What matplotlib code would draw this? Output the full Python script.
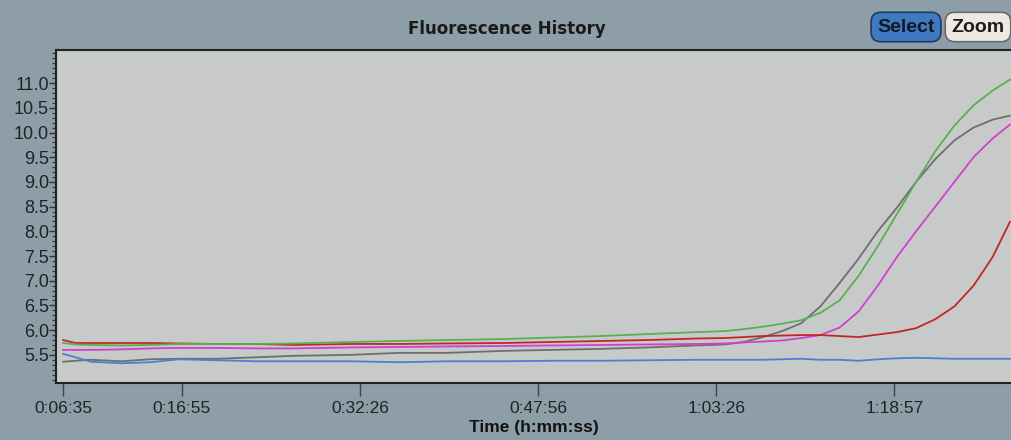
import matplotlib
matplotlib.use("Agg")
import matplotlib.pyplot as plt
from matplotlib.ticker import MultipleLocator

# time in seconds
t = [395, 460, 540, 700, 850, 1000, 1200, 1400, 1600, 1900, 2150, 2400, 2700, 2950,
     3200, 3450, 3700, 3850, 3950, 4050, 4150, 4250, 4350, 4450, 4550, 4650, 4750,
     4850, 4950, 5050, 5150, 5250, 5340]

green = [5.74, 5.71, 5.70, 5.69, 5.70, 5.72, 5.72, 5.72, 5.73, 5.76, 5.78, 5.80, 5.82, 5.85,
         5.88, 5.92, 5.96, 5.98, 6.02, 6.07, 6.13, 6.20, 6.35, 6.60, 7.10, 7.70, 8.35,
         9.00, 9.62, 10.14, 10.55, 10.85, 11.07]
gray = [5.36, 5.38, 5.40, 5.37, 5.41, 5.42, 5.42, 5.45, 5.48, 5.50, 5.54, 5.54, 5.58, 5.60,
        5.62, 5.65, 5.69, 5.71, 5.76, 5.86, 5.98, 6.14, 6.48, 6.95, 7.45, 8.00, 8.48,
        9.00, 9.46, 9.84, 10.10, 10.26, 10.34]
magenta = [5.60, 5.60, 5.60, 5.61, 5.63, 5.64, 5.64, 5.63, 5.63, 5.65, 5.66, 5.67, 5.68, 5.69,
           5.70, 5.71, 5.72, 5.73, 5.75, 5.77, 5.79, 5.84, 5.90, 6.05, 6.38, 6.90, 7.48,
           8.00, 8.50, 9.00, 9.50, 9.88, 10.16]
red = [5.80, 5.74, 5.74, 5.74, 5.74, 5.73, 5.72, 5.72, 5.70, 5.72, 5.72, 5.73, 5.74, 5.76,
       5.78, 5.80, 5.83, 5.84, 5.86, 5.88, 5.89, 5.90, 5.90, 5.88, 5.86, 5.91, 5.96,
       6.04, 6.22, 6.48, 6.90, 7.48, 8.19]
blue = [5.52, 5.45, 5.36, 5.33, 5.35, 5.41, 5.39, 5.37, 5.37, 5.37, 5.35, 5.37, 5.37, 5.38,
        5.38, 5.39, 5.40, 5.40, 5.40, 5.40, 5.41, 5.42, 5.40, 5.40, 5.38, 5.41, 5.43,
        5.44, 5.43, 5.42, 5.42, 5.42, 5.42]

xtick_pos = [395, 1015, 1946, 2876, 3806, 4737]
xtick_labels = ["0:06:35", "0:16:55", "0:32:26", "0:47:56", "1:03:26", "1:18:57"]

outer_bg = "#8d9ea8"
plot_bg = "#c8cac9"

fig = plt.figure(figsize=(10.12, 4.4), dpi=100, facecolor=outer_bg)
ax = fig.add_axes([56 / 1012, 57 / 440, 1 - 56 / 1012, 333 / 440])
ax.set_facecolor(plot_bg)

series = [(gray, "#6e6e6e"), (blue, "#4a80d8"), (magenta, "#d040d0"),
          (red, "#c02828"), (green, "#58b050")]
for vals, col in series:
    ax.plot(t, vals, color=col, lw=1.3)

ax.set_xlim(358, 5351)
ax.set_ylim(4.93, 11.67)

narrow = ["Liberation Sans Narrow", "Liberation Sans", "DejaVu Sans"]
ax.set_xticks(xtick_pos)
ax.set_xticklabels(xtick_labels, family=narrow, fontsize=12.5, color="#222222")
ax.yaxis.set_minor_locator(MultipleLocator(0.1))
ax.set_yticks([5.5 + 0.5 * i for i in range(12)])
ax.set_yticklabels([f"{5.5 + 0.5 * i:.1f}" for i in range(12)],
                   family=["Liberation Sans", "DejaVu Sans"], fontsize=13, color="#222222")
ax.tick_params(axis="y", which="major", length=5, width=1, color="#333333", pad=0)
ax.tick_params(axis="y", which="minor", length=3, width=0.8, color="#333333")
ax.tick_params(axis="x", which="major", length=9, width=1, color="#444444", pad=4)

for s in ["left", "bottom", "top"]:
    ax.spines[s].set_color("#222222")
    ax.spines[s].set_linewidth(1.5)
ax.spines["right"].set_visible(False)

ax.set_xlabel("Time (h:mm:ss)", family=narrow, fontweight="bold", fontsize=12.5,
              color="#111111", labelpad=3)

fig.text(507 / 1012, 1 - 29 / 440, "Fluorescence History", ha="center", va="center",
         fontsize=12, fontweight="bold", color="#1a1a1a", family=["DejaVu Sans"])

fig.text(906 / 1012, 1 - 27 / 440, "Select", ha="center", va="center", fontsize=14,
         fontweight="bold", color="#101828", family=narrow,
         bbox=dict(boxstyle="round,pad=0.32,rounding_size=0.5", fc="#3f7ac0", ec="#1e3a60", lw=1.2))
fig.text(978 / 1012, 1 - 27 / 440, "Zoom", ha="center", va="center", fontsize=14,
         fontweight="bold", color="#201a18", family=narrow,
         bbox=dict(boxstyle="round,pad=0.32,rounding_size=0.5", fc="#ece8e2", ec="#6a6a6a", lw=1.2))

fig.savefig("out.png", dpi=100, facecolor=outer_bg)
